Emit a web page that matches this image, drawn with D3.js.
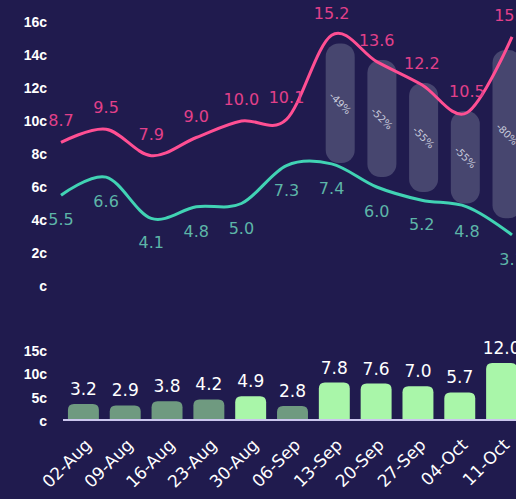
<!DOCTYPE html>
<html>
<head>
<meta charset="utf-8">
<script src="https://cdn.jsdelivr.net/npm/d3@7"></script>
<style>
  html, body { margin: 0; padding: 0; background: #201b4e; }
  svg { display: block; font-family: "DejaVu Sans", sans-serif; }
</style>
</head>
<body>
<svg id="chart" width="516" height="499"></svg>
<script>
// weeks
const weeks = ["02-Aug", "09-Aug", "16-Aug", "23-Aug", "30-Aug", "06-Sep",
               "13-Sep", "20-Sep", "27-Sep", "04-Oct", "11-Oct"];

// top lines
const pinkVals = [8.7, 9.5, 7.9, 9.0, 10.0, 10.1, 15.2, 13.6, 12.2, 10.5, 15.1];
const tealVals = [5.5, 6.6, 4.1, 4.8, 5.0, 7.3, 7.4, 6.0, 5.2, 4.8, 3.1];

// grey range bars (last five weeks)
const rangeWeeks = ["13-Sep", "20-Sep", "27-Sep", "04-Oct", "11-Oct"];
const rangeTop = [14.7, 13.7, 12.3, 10.6, 14.3];
const rangeBottom = [7.45, 6.6, 5.7, 5.0, 4.1];
const rangeLabels = ["-49%", "-52%", "-55%", "-55%", "-80%"];

// bottom bars
const barVals = [3.2, 2.9, 3.8, 4.2, 4.9, 2.8, 7.8, 7.6, 7.0, 5.7, 12.0];
const barBright = [false, false, false, false, true, false, true, true, true, true, true];

const topTicks = [0, 2, 4, 6, 8, 10, 12, 14, 16];
const botTicks = [0, 5, 10, 15];

const svg = d3.select("#chart");

// ---- top chart
const xLine = d3.scalePoint().domain(weeks).range([61, 512]);
const yTop = d3.scaleLinear().domain([0, 16]).range([286, 22]);
const xRange = d3.scalePoint().domain(weeks).range([90, 507]);

const topAxis = svg.append("g")
  .attr("transform", "translate(47,0)")
  .call(d3.axisLeft(yTop).tickValues(topTicks).tickSize(0).tickPadding(0)
    .tickFormat(d => (d === 0 ? "" : d) + "c"));
topAxis.select(".domain").remove();
topAxis.selectAll("text")
  .attr("fill", "#ffffff").attr("font-size", 14).attr("font-weight", "bold");

svg.append("g").selectAll("rect")
  .data(rangeWeeks)
  .join("rect")
  .attr("x", d => xRange(d) - 14.5)
  .attr("width", 29)
  .attr("y", (d, i) => yTop(rangeTop[i]))
  .attr("height", (d, i) => yTop(rangeBottom[i]) - yTop(rangeTop[i]))
  .attr("rx", 13)
  .attr("fill", "#8d93ad")
  .attr("opacity", 0.36);

svg.append("g").selectAll("text")
  .data(rangeWeeks)
  .join("text")
  .attr("transform", (d, i) => {
    const cy = (yTop(rangeTop[i]) + yTop(rangeBottom[i])) / 2;
    return `translate(${xRange(d)},${cy}) rotate(45)`;
  })
  .attr("text-anchor", "middle")
  .attr("dy", "0.35em")
  .attr("font-size", 10)
  .attr("fill", "#c9cbdc")
  .text((d, i) => rangeLabels[i]);

const line = d3.line()
  .x((d, i) => xLine(weeks[i]))
  .y(d => yTop(d))
  .curve(d3.curveCardinal.tension(0));

svg.append("path").datum(pinkVals)
  .attr("d", line).attr("fill", "none")
  .attr("stroke", "#ff4f93").attr("stroke-width", 3);
svg.append("path").datum(tealVals)
  .attr("d", line).attr("fill", "none")
  .attr("stroke", "#41d3b4").attr("stroke-width", 3);

svg.append("g").selectAll("text")
  .data(pinkVals)
  .join("text")
  .attr("x", (d, i) => xLine(weeks[i]))
  .attr("y", d => yTop(d) - 16)
  .attr("text-anchor", "middle")
  .attr("font-size", 16)
  .attr("fill", "#e2408a")
  .text(d => d.toFixed(1));

svg.append("g").selectAll("text")
  .data(tealVals)
  .join("text")
  .attr("x", (d, i) => xLine(weeks[i]))
  .attr("y", d => yTop(d) + 30)
  .attr("text-anchor", "middle")
  .attr("font-size", 16)
  .attr("fill", "#5db5a8")
  .text(d => d.toFixed(1));

// ---- bottom chart
const xBar = d3.scaleBand().domain(weeks).range([62.5, 522.5]).paddingInner(0.26).paddingOuter(0.13);
const yBot = d3.scaleLinear().domain([0, 15]).range([419, 349]);

const botAxis = svg.append("g")
  .attr("transform", "translate(47,2)")
  .call(d3.axisLeft(yBot).tickValues(botTicks).tickSize(0).tickPadding(0)
    .tickFormat(d => (d === 0 ? "" : d) + "c"));
botAxis.select(".domain").remove();
botAxis.selectAll("text")
  .attr("fill", "#ffffff").attr("font-size", 14).attr("font-weight", "bold");

svg.append("g").selectAll("path")
  .data(weeks)
  .join("path")
  .attr("d", (d, i) => {
    const x0 = xBar(d), w = xBar.bandwidth();
    const y0 = yBot(barVals[i]), y1 = yBot(0), r = Math.min(6, (y1 - y0));
    return `M${x0},${y1}V${y0 + r}Q${x0},${y0} ${x0 + r},${y0}H${x0 + w - r}Q${x0 + w},${y0} ${x0 + w},${y0 + r}V${y1}Z`;
  })
  .attr("fill", (d, i) => barBright[i] ? "#a9f6a9" : "#6f9a80");

svg.append("line")
  .attr("x1", 63).attr("x2", 516)
  .attr("y1", yBot(0) + 1).attr("y2", yBot(0) + 1)
  .attr("stroke", "#cbc6ee").attr("stroke-width", 2);

svg.append("g").selectAll("text")
  .data(weeks)
  .join("text")
  .attr("x", d => xBar(d) + xBar.bandwidth() / 2)
  .attr("y", (d, i) => yBot(barVals[i]) - 9)
  .attr("text-anchor", "middle")
  .attr("font-size", 17)
  .attr("fill", "#ffffff")
  .text((d, i) => barVals[i].toFixed(1));

svg.append("g").selectAll("text")
  .data(weeks)
  .join("text")
  .attr("transform", d => `translate(${xBar(d) + xBar.bandwidth() / 2 + 9},${446}) rotate(-45)`)
  .attr("text-anchor", "end")
  .attr("font-size", 17)
  .attr("fill", "#ffffff")
  .text(d => d);
</script>
</body>
</html>
